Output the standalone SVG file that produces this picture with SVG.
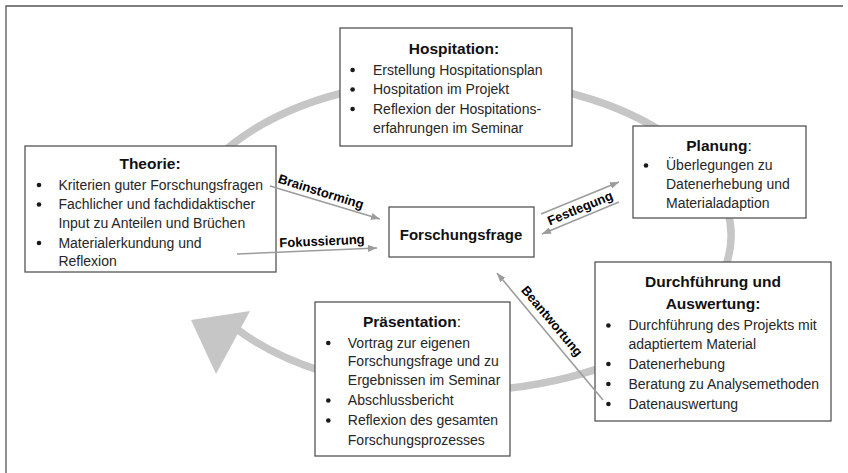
<svg xmlns="http://www.w3.org/2000/svg" width="848" height="473" viewBox="0 0 848 473">
<style>
.box{fill:#fff;stroke:#555;stroke-width:1.3}
.t{font-family:"Liberation Sans",Arial,sans-serif;font-size:15.5px;font-weight:bold;fill:#111;text-anchor:middle}
.b{font-family:"Liberation Sans",Arial,sans-serif;font-size:14px;fill:#262626}
.n{font-weight:normal}
.d{fill:#1a1a1a}
.c{stroke:#9c9c9c;stroke-width:1.6;fill:none;marker-end:url(#ah)}
.l{font-family:"Liberation Sans",Arial,sans-serif;font-size:13px;font-weight:bold;fill:#000;text-anchor:middle}
</style>
<defs>
<marker id="ah" markerUnits="userSpaceOnUse" markerWidth="9" markerHeight="7" refX="9" refY="3.5" orient="auto">
<path d="M0,0 L9,3.5 L0,7 z" fill="#9c9c9c"/>
</marker>
</defs>
<rect width="848" height="473" fill="#fff"/>
<path d="M6,473 L6,6 L843,6" fill="none" stroke="#555" stroke-width="1.3"/>
<g id="ring">
<path d="M236,328.6 A275 156 0 1 0 195,186" fill="none" stroke="#c6c6c6" stroke-width="7.5"/>
<polygon points="191,320 250,311 216,374" fill="#c6c6c6"/>
</g>
<g id="hospitation">
<rect class="box" x="340" y="28" width="232" height="118"/>
<text class="t" x="454" y="53.5">Hospitation:</text>
<circle class="d" cx="352.6" cy="70" r="2.3"/><text class="b" x="373" y="74.5">Erstellung Hospitationsplan</text>
<circle class="d" cx="352.6" cy="89.5" r="2.3"/><text class="b" x="373" y="94">Hospitation im Projekt</text>
<circle class="d" cx="352.6" cy="109" r="2.3"/><text class="b" x="373" y="113.5">Reflexion der Hospitations-</text>
<text class="b" x="373" y="133">erfahrungen im Seminar</text>
</g>
<g id="theorie">
<rect class="box" x="25" y="146" width="251" height="126"/>
<text class="t" x="150" y="169">Theorie:</text>
<circle class="d" cx="39" cy="185" r="2.3"/><text class="b" x="58.4" y="189.5">Kriterien guter Forschungsfragen</text>
<circle class="d" cx="39" cy="204.5" r="2.3"/><text class="b" x="58.4" y="209">Fachlicher und fachdidaktischer</text>
<text class="b" x="58.4" y="228">Input zu Anteilen und Brüchen</text>
<circle class="d" cx="39" cy="243" r="2.3"/><text class="b" x="58.4" y="247.5">Materialerkundung und</text>
<text class="b" x="58.4" y="266">Reflexion</text>
</g>
<g id="planung">
<rect class="box" x="633" y="126" width="173" height="92"/>
<text class="t" x="719" y="150.5">Planung<tspan class="n">:</tspan></text>
<circle class="d" cx="646" cy="165.5" r="2.3"/><text class="b" x="666" y="170">Überlegungen zu</text>
<text class="b" x="666" y="189">Datenerhebung und</text>
<text class="b" x="666" y="208">Materialadaption</text>
</g>
<g id="forschungsfrage">
<rect class="box" x="389" y="207" width="145" height="50"/>
<text class="t" x="461" y="239.5" style="font-size:15px">Forschungsfrage</text>
</g>
<g id="durchfuehrung">
<rect class="box" x="595" y="262" width="236" height="159"/>
<text class="t" x="713" y="287">Durchführung und</text>
<text class="t" x="713" y="308.7">Auswertung:</text>
<circle class="d" cx="608.4" cy="325.5" r="2.3"/><text class="b" x="628.4" y="330">Durchführung des Projekts mit</text>
<text class="b" x="628.4" y="349">adaptiertem Material</text>
<circle class="d" cx="608.4" cy="364" r="2.3"/><text class="b" x="628.4" y="368.5">Datenerhebung</text>
<circle class="d" cx="608.4" cy="384" r="2.3"/><text class="b" x="628.4" y="388.5">Beratung zu Analysemethoden</text>
<circle class="d" cx="608.4" cy="404" r="2.3"/><text class="b" x="628.4" y="408.5">Datenauswertung</text>
</g>
<g id="praesentation">
<rect class="box" x="315" y="302" width="195" height="154"/>
<text class="t" x="412" y="327">Präsentation<tspan class="n">:</tspan></text>
<circle class="d" cx="328.3" cy="343" r="2.3"/><text class="b" x="347.8" y="347.5">Vortrag zur eigenen</text>
<text class="b" x="347.8" y="366">Forschungsfrage und zu</text>
<text class="b" x="347.8" y="385">Ergebnissen im Seminar</text>
<circle class="d" cx="328.3" cy="400.5" r="2.3"/><text class="b" x="347.8" y="405">Abschlussbericht</text>
<circle class="d" cx="328.3" cy="420.5" r="2.3"/><text class="b" x="347.8" y="425">Reflexion des gesamten</text>
<text class="b" x="347.8" y="444.5">Forschungsprozesses</text>
</g>
<g id="connectors">
<line class="c" x1="270" y1="186" x2="380" y2="219"/>
<line class="c" x1="237" y1="254" x2="377" y2="248"/>
<line class="c" x1="541" y1="214" x2="619" y2="182"/>
<line class="c" x1="619" y1="202" x2="542" y2="234"/>
<line class="c" x1="603" y1="400" x2="497" y2="273"/>
<text class="l" transform="translate(321,191.5) rotate(17.5)" y="4.5">Brainstorming</text>
<text class="l" transform="translate(322,241) rotate(-2.5)" y="4.5">Fokussierung</text>
<text class="l" transform="translate(580,208) rotate(-22.5)" y="4.5">Festlegung</text>
<text class="l" transform="translate(552,321) rotate(50)" y="4.5">Beantwortung</text>
</g>
</svg>
